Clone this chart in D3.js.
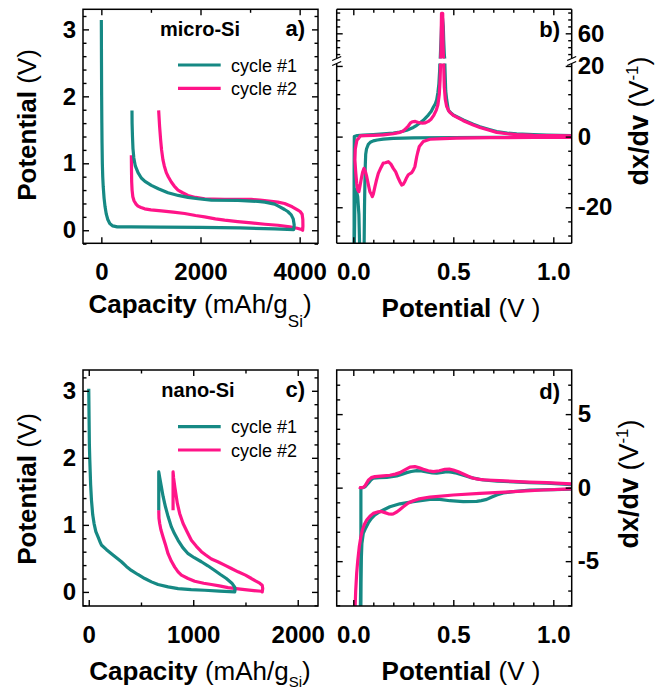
<!DOCTYPE html>
<html><head><meta charset="utf-8">
<script src="https://cdn.jsdelivr.net/npm/d3@7"></script>
<style>body{margin:0;background:#fff}</style>
</head><body><svg id="c" width="656" height="691"></svg>
<script>
// ---------------- DATA ----------------
// Panel a: micro-Si, capacity (mAh/g) vs potential (V)
const microCycle1 = [[0,3.14],[3,2.5],[6,2.0],[10,1.6],[14,1.3],[20,1.0],[28,0.8],[38,0.65],[55,0.48],[75,0.35],[100,0.24],[130,0.16],[170,0.10],[230,0.065],[320,0.05],[600,0.05],[1200,0.048],[2000,0.043],[2800,0.035],[3500,0.02],[3880,0.01],
  [3890,0.08],[3870,0.17],[3830,0.23],[3760,0.28],[3696,0.31],[3600,0.35],[3495,0.39],[3300,0.42],[3159,0.43],[2755,0.445],[2218,0.45],[1950,0.47],[1747,0.49],[1550,0.52],[1344,0.56],[1150,0.62],[1008,0.67],[880,0.73],[806,0.78],[740,0.86],[685,0.96],[655,1.08],[638,1.22],[628,1.4],[620,1.6],[618,1.79]];
const microCycle2 = [[605,1.12],[608,0.9],[612,0.72],[620,0.6],[635,0.5],[659,0.44],[700,0.39],[739,0.36],[800,0.34],[874,0.32],[1000,0.305],[1210,0.29],[1450,0.27],[1680,0.25],[1900,0.22],[2083,0.20],[2300,0.17],[2487,0.15],[2750,0.13],[3024,0.11],[3300,0.09],[3562,0.075],[3800,0.05],[3950,0.03],[4040,0.01],[4060,0.0],
  [4066,0.06],[4064,0.16],[4050,0.24],[4010,0.28],[3965,0.30],[3850,0.35],[3696,0.40],[3560,0.42],[3427,0.43],[3200,0.45],[3024,0.46],[2750,0.46],[2487,0.46],[2250,0.465],[2083,0.47],[1900,0.49],[1747,0.52],[1640,0.56],[1546,0.60],[1470,0.66],[1411,0.72],[1350,0.80],[1310,0.86],[1270,0.96],[1243,1.05],[1215,1.2],[1196,1.35],[1175,1.55],[1156,1.79]];

// Panel b: micro-Si, potential (V) vs dx/dV (1/V)
const microDiff1Discharge = [[1.09,-0.1],[0.9,-0.15],[0.7,-0.2],[0.5,-0.25],[0.3,-0.35],[0.2,-0.5],[0.15,-0.7],[0.12,-0.95],[0.1,-1.2],[0.085,-1.6],[0.075,-2.2],[0.066,-3.5],[0.062,-5],[0.06,-8],[0.058,-13],[0.056,-20],[0.054,-32]];
const microDiff1Plateau = [[0.032,-32],[0.028,-22],[0.022,-17],[0.014,-15],[0.008,-18],[0.005,-32]];
const microDiff1Charge = [[0.004,-32],[0.004,-10],[0.005,0],[0.02,0.3],[0.05,0.45],[0.1,0.6],[0.15,0.8],[0.2,1.0],[0.233,1.3],[0.267,1.8],[0.3,2.6],[0.317,3.2],[0.35,4.6],[0.375,6.1],[0.39,7.2],[0.4,8.3],[0.41,9.3],[0.417,10.4],[0.423,12.5],[0.428,15],[0.432,19],[0.435,25],[0.437,40],[0.44,60],[0.442,75],[0.446,82],[0.45,70],[0.452,50],[0.455,30],[0.458,20],[0.462,13],[0.467,10.4],[0.475,7.5],[0.49,6.6],[0.5,6.1],[0.55,4.7],[0.6,3.5],[0.633,2.8],[0.68,2.0],[0.717,1.4],[0.77,1.0],[0.817,0.75],[0.9,0.55],[0.967,0.4],[1.09,0.25]];
const microDiff2Charge = [[0.03,-0.3],[0.035,0.2],[0.06,0.25],[0.1,0.35],[0.15,0.5],[0.2,0.8],[0.233,1.2],[0.25,1.6],[0.265,2.4],[0.275,3.0],[0.285,3.8],[0.295,4.2],[0.31,4.3],[0.325,4.0],[0.345,3.8],[0.36,3.9],[0.375,4.3],[0.39,5.0],[0.403,6.1],[0.415,7.5],[0.423,9],[0.43,12],[0.434,16],[0.437,22],[0.439,40],[0.44,70],[0.441,89],[0.447,89],[0.448,70],[0.449,40],[0.451,22],[0.455,14],[0.46,10.5],[0.467,8.5],[0.48,7],[0.5,6],[0.55,4.5],[0.6,3.3],[0.633,2.6],[0.68,1.8],[0.717,1.2],[0.77,0.8],[0.817,0.55],[0.9,0.35],[1.0,0.25],[1.09,0.2]];
const microDiff2Discharge = [[1.09,-0.2],[0.9,-0.25],[0.683,-0.3],[0.517,-0.45],[0.45,-0.55],[0.383,-0.75],[0.35,-1.4],[0.33,-2.8],[0.322,-4.5],[0.317,-5.7],[0.308,-8.5],[0.3,-9.5],[0.292,-10.2],[0.275,-10.8],[0.265,-11.8],[0.258,-12.7],[0.25,-13.5],[0.242,-13.7],[0.235,-13],[0.225,-11.8],[0.212,-10],[0.2,-9],[0.188,-7.8],[0.175,-7.1],[0.16,-7.4],[0.15,-7.5],[0.138,-8.8],[0.125,-10.4],[0.115,-12.5],[0.108,-14.2],[0.1,-16.3],[0.095,-17],[0.09,-16.3],[0.083,-15.6],[0.075,-13.5],[0.067,-11.3],[0.06,-9.8],[0.053,-9],[0.047,-10],[0.042,-11.3],[0.035,-13.5],[0.028,-15.6],[0.022,-15],[0.017,-13.2],[0.012,-10],[0.008,-6.6],[0.01,-3.5],[0.018,-1.0],[0.03,-0.3]];

// Panel c: nano-Si, capacity vs potential
const nanoCycle1 = [[0,3.03],[3,2.6],[6,2.2],[10,1.97],[18,1.6],[26,1.37],[38,1.15],[51,1.02],[68,0.9],[89,0.82],[110,0.74],[121,0.70],[170,0.63],[217,0.57],[265,0.51],[313,0.45],[360,0.38],[408,0.32],[470,0.26],[536,0.20],[600,0.15],[663,0.11],[760,0.075],[855,0.05],[980,0.035],[1110,0.025],[1250,0.012],[1397,0.0],
  [1400,0.03],[1397,0.07],[1370,0.13],[1317,0.20],[1260,0.26],[1206,0.32],[1140,0.39],[1078,0.45],[1010,0.51],[951,0.57],[900,0.66],[855,0.77],[820,0.87],[791,0.97],[760,1.12],[734,1.27],[712,1.42],[695,1.57],[680,1.70],[670,1.79],[670,1.22]];
const nanoCycle2 = [[670,1.22],[672,1.1],[679,1.02],[690,0.93],[711,0.82],[735,0.70],[759,0.57],[790,0.46],[823,0.37],[855,0.30],[887,0.25],[950,0.20],[1014,0.16],[1100,0.13],[1174,0.11],[1250,0.09],[1333,0.065],[1410,0.05],[1493,0.035],[1580,0.02],[1652,0.01],[1660,0.0],
  [1665,0.05],[1660,0.10],[1636,0.13],[1600,0.16],[1557,0.20],[1500,0.25],[1429,0.30],[1365,0.35],[1301,0.40],[1235,0.45],[1174,0.49],[1120,0.55],[1078,0.60],[1030,0.68],[982,0.77],[940,0.90],[903,1.02],[870,1.17],[848,1.32],[825,1.55],[812,1.70],[807,1.79],[807,1.22]];

// Panel d: nano-Si, potential vs dx/dV
const nanoDiff1Charge = [[0.038,-8.5],[0.038,-3],[0.038,0],[0.05,0],[0.058,0.05],[0.068,0.2],[0.075,0.3],[0.09,0.55],[0.1,0.64],[0.13,0.68],[0.167,0.7],[0.217,0.8],[0.245,0.92],[0.267,1.02],[0.29,1.1],[0.317,1.16],[0.34,1.13],[0.367,1.07],[0.395,1.0],[0.417,0.98],[0.445,1.03],[0.467,1.09],[0.49,1.05],[0.517,0.98],[0.55,0.84],[0.583,0.7],[0.62,0.6],[0.65,0.52],[0.72,0.44],[0.8,0.39],[0.88,0.34],[0.967,0.3],[1.03,0.26],[1.09,0.2]];
const nanoDiff1Discharge = [[1.09,-0.11],[1.0,-0.13],[0.883,-0.16],[0.8,-0.27],[0.75,-0.36],[0.717,-0.5],[0.69,-0.65],[0.667,-0.8],[0.64,-0.88],[0.617,-0.93],[0.55,-0.95],[0.483,-0.89],[0.433,-0.8],[0.383,-0.8],[0.3,-0.95],[0.233,-1.1],[0.183,-1.3],[0.15,-1.52],[0.125,-1.7],[0.108,-1.86],[0.09,-2.1],[0.075,-2.4],[0.06,-2.8],[0.05,-3.1],[0.043,-3.8],[0.04,-4.9],[0.037,-6.5],[0.035,-8.5]];
const nanoDiff2Charge = [[0.033,-0.1],[0.035,0],[0.05,0.02],[0.06,0.15],[0.075,0.5],[0.09,0.68],[0.108,0.75],[0.15,0.8],[0.183,0.84],[0.21,0.92],[0.233,1.02],[0.26,1.22],[0.283,1.39],[0.308,1.43],[0.33,1.35],[0.35,1.25],[0.375,1.15],[0.4,1.09],[0.43,1.15],[0.458,1.25],[0.48,1.26],[0.5,1.2],[0.525,1.08],[0.55,0.93],[0.575,0.78],[0.6,0.64],[0.63,0.56],[0.667,0.52],[0.73,0.47],[0.8,0.43],[0.88,0.38],[0.967,0.34],[1.09,0.25]];
const nanoDiff2Discharge = [[1.09,-0.09],[0.95,-0.16],[0.8,-0.27],[0.633,-0.39],[0.5,-0.5],[0.383,-0.64],[0.33,-0.76],[0.3,-0.89],[0.275,-1.05],[0.25,-1.3],[0.232,-1.5],[0.217,-1.66],[0.2,-1.78],[0.192,-1.8],[0.175,-1.78],[0.158,-1.7],[0.14,-1.62],[0.125,-1.64],[0.1,-1.75],[0.083,-1.95],[0.067,-2.2],[0.055,-2.5],[0.045,-2.9],[0.037,-3.4],[0.03,-4.0],[0.022,-5],[0.017,-5.8],[0.012,-7],[0.008,-8.5]];

// Ticks
const capTicksMicro = [0,2000,4000], capMinorMicro = [1000,3000];
const capTicksNano = [0,1000,2000], capMinorNano = [500,1500];
const voltTicks = [0,1,2,3];
const voltMinor = [-0.2,0.2,0.4,0.6,0.8,1.2,1.4,1.6,1.8,2.2,2.4,2.6,2.8,3.2];
const potTicks = [0,0.5,1.0], potMinor = [0.1,0.2,0.3,0.4,0.6,0.7,0.8,0.9];
const bLowTicks = [-20,0,20], bLowMinor = [-28,-24,-16,-12,-8,-4,4,8,12,16];
const bUpTicks = [60], bUpMinor = [30,40,50,70,80,90];
const dTicks = [-5,0,5], dMinor = [-8,-7,-6,-4,-3,-2,-1,1,2,3,4,6,7];
const legendLabels = ["cycle #1","cycle #2"];

// ---------------- DRAW ----------------
const TEAL = "#168984", PINK = "#ff1488";
const FONT = '"Liberation Sans", Arial, Helvetica, sans-serif';
const svg = d3.select("#c");
const defs = svg.append("defs");

function clip(id, x0, y0, x1, y1) {
  defs.append("clipPath").attr("id", id).append("rect")
    .attr("x", x0).attr("y", y0).attr("width", x1 - x0).attr("height", y1 - y0);
  return "url(#" + id + ")";
}

function axis(fn, scale, values, size, tr, fmt, pad) {
  const a = fn(scale).tickValues(values).tickSize(size).tickPadding(pad || 0)
    .tickFormat(fmt || (() => ""));
  const g = svg.append("g").attr("transform", tr).call(a);
  g.select(".domain").remove();
  g.selectAll("line").attr("stroke", "#000").attr("stroke-width", 1.4);
  g.selectAll("text").attr("font-family", FONT).attr("font-weight", "bold")
    .attr("font-size", 24).attr("fill", "#000");
  return g;
}
const fmtPlain = d => String(d);
const fmt1 = d3.format(".1f");
const MAJ = -6, MIN = -3.5;

function xAxes(x, y0, y1, major, minor, fmt) {
  axis(d3.axisBottom, x, major, MAJ, `translate(0,${y1})`, fmt, 20);
  axis(d3.axisBottom, x, minor, MIN, `translate(0,${y1})`);
  axis(d3.axisTop, x, major, MAJ, `translate(0,${y0})`);
  axis(d3.axisTop, x, minor, MIN, `translate(0,${y0})`);
}

function drawLine(g, x, y, data, color, cp) {
  g.append("path").datum(data)
    .attr("clip-path", cp)
    .attr("fill", "none").attr("stroke", color).attr("stroke-width", 3.2)
    .attr("stroke-linejoin", "round").attr("stroke-linecap", "butt")
    .attr("d", d3.line().x(d => x(d[0])).y(d => y(d[1])));
}

function rectFrame(x0, y0, x1, y1) {
  svg.append("rect").attr("x", x0).attr("y", y0).attr("width", x1 - x0).attr("height", y1 - y0)
    .attr("fill", "none").attr("stroke", "#000").attr("stroke-width", 1.5);
}

function text(x, y, parts, opts) {
  const t = svg.append("text").attr("x", x).attr("y", y)
    .attr("font-family", FONT).attr("fill", "#000")
    .attr("text-anchor", (opts && opts.anchor) || "start");
  if (opts && opts.rotate) t.attr("transform", `rotate(-90,${x},${y})`);
  parts.forEach(p => {
    const s = t.append("tspan").text(p.t).attr("font-size", p.size || 26)
      .attr("font-weight", p.bold ? "bold" : "normal");
    if (p.dy) s.attr("dy", p.dy);
  });
  return t;
}

function legend(x0, yTop) {
  [TEAL, PINK].forEach((c, i) => {
    const yy = yTop + i * 23.3;
    svg.append("line").attr("x1", x0).attr("x2", x0 + 42.7).attr("y1", yy).attr("y2", yy)
      .attr("stroke", c).attr("stroke-width", 3.2);
    text(x0 + 53, yy + 6.5, [{t: legendLabels[i], size: 18}]);
  });
}

const L1 = 83, R1 = 318, L2 = 336.7, R2 = 571.7;
const T1 = 9.3, B1 = 243.3, T2 = 370, B2 = 606;

// ===== Panel a =====
{
  const x = d3.scaleLinear([-370, 4370], [L1, R1]);
  const y = d3.scaleLinear([-0.195, 3.30], [B1, T1]);
  const cp = clip("ca", L1, T1, R1, B1);
  const g = svg.append("g");
  drawLine(g, x, y, microCycle2, PINK, cp);
  drawLine(g, x, y, microCycle1, TEAL, cp);
  xAxes(x, T1, B1, capTicksMicro, capMinorMicro, fmtPlain);
  axis(d3.axisLeft, y, voltTicks, MAJ, `translate(${L1},0)`, fmtPlain, 7);
  axis(d3.axisLeft, y, voltMinor, MIN, `translate(${L1},0)`);
  axis(d3.axisRight, y, voltTicks, MAJ, `translate(${R1},0)`);
  axis(d3.axisRight, y, voltMinor, MIN, `translate(${R1},0)`);
  rectFrame(L1, T1, R1, B1);
  text(200, 36, [{t: "micro-Si", bold: true, size: 20}], {anchor: "middle"});
  text(305, 36, [{t: "a)", bold: true, size: 22}], {anchor: "end"});
  legend(178, 65);
  text(200, 313, [{t: "Capacity", bold: true}, {t: " (mAh/g"}, {t: "Si", size: 17, dy: 14}, {t: ")", dy: -14}], {anchor: "middle"});
  text(36, 125, [{t: "Potential", bold: true}, {t: " (V)"}], {anchor: "middle", rotate: true});
}

// ===== Panel b =====
{
  const x = d3.scaleLinear([-0.083, 1.092], [L2, R2]);
  const yLow = d3.scaleLinear([-30.2, 21.4], [B1, 61]);
  const yUp = d3.scaleLinear([20, 94.7], [61, T1]);
  const cpLow = clip("cbl", L2, 63.5, R2, B1);
  const cpUp = clip("cbu", L2, T1, R2, 58.5);
  const g = svg.append("g");
  [[yLow, cpLow], [yUp, cpUp]].forEach(([y, cp]) => {
    drawLine(g, x, y, microDiff1Discharge, TEAL, cp);
    drawLine(g, x, y, microDiff1Plateau, TEAL, cp);
    drawLine(g, x, y, microDiff1Charge, TEAL, cp);
    drawLine(g, x, y, microDiff2Discharge, PINK, cp);
    drawLine(g, x, y, microDiff2Charge, PINK, cp);
  });
  xAxes(x, T1, B1, potTicks, potMinor, fmt1);
  axis(d3.axisLeft, yLow, bLowTicks, MAJ, `translate(${L2},0)`);
  axis(d3.axisLeft, yLow, bLowMinor, MIN, `translate(${L2},0)`);
  axis(d3.axisLeft, yUp, bUpTicks, MAJ, `translate(${L2},0)`);
  axis(d3.axisLeft, yUp, bUpMinor, MIN, `translate(${L2},0)`);
  axis(d3.axisRight, yLow, bLowTicks, MAJ, `translate(${R2},0)`, fmtPlain, 6);
  axis(d3.axisRight, yLow, bLowMinor, MIN, `translate(${R2},0)`);
  axis(d3.axisRight, yUp, bUpTicks, MAJ, `translate(${R2},0)`, fmtPlain, 6);
  axis(d3.axisRight, yUp, bUpMinor, MIN, `translate(${R2},0)`);
  const fr = svg.append("g").attr("stroke", "#000").attr("stroke-width", 1.5).attr("fill", "none");
  fr.append("line").attr("x1", L2).attr("x2", R2).attr("y1", T1).attr("y2", T1);
  fr.append("line").attr("x1", L2).attr("x2", R2).attr("y1", B1).attr("y2", B1);
  [L2, R2].forEach(xx => {
    fr.append("line").attr("x1", xx).attr("x2", xx).attr("y1", T1).attr("y2", 58.5);
    fr.append("line").attr("x1", xx).attr("x2", xx).attr("y1", 63.5).attr("y2", B1);
    [58.5, 63.5].forEach(yy => {
      fr.append("line").attr("x1", xx - 4.5).attr("x2", xx + 4.5)
        .attr("y1", yy + 2).attr("y2", yy - 2).attr("stroke-width", 1.3);
    });
  });
  text(560, 37, [{t: "b)", bold: true, size: 22}], {anchor: "end"});
  text(461, 317, [{t: "Potential", bold: true}, {t: " (V )"}], {anchor: "middle"});
  text(648, 121, [{t: "dx/dv", bold: true, size: 27}, {t: " (V", size: 27}, {t: "-1", size: 17, dy: -10}, {t: ")", size: 27, dy: 10}], {anchor: "middle", rotate: true});
}

// ===== Panel c =====
{
  const x = d3.scaleLinear([-55, 2194], [L1, R1]);
  const y = d3.scaleLinear([-0.21, 3.31], [B2, T2]);
  const cp = clip("cc", L1, T2, R1, B2);
  const g = svg.append("g");
  drawLine(g, x, y, nanoCycle2, PINK, cp);
  drawLine(g, x, y, nanoCycle1, TEAL, cp);
  xAxes(x, T2, B2, capTicksNano, capMinorNano, fmtPlain);
  axis(d3.axisLeft, y, voltTicks, MAJ, `translate(${L1},0)`, fmtPlain, 7);
  axis(d3.axisLeft, y, voltMinor, MIN, `translate(${L1},0)`);
  axis(d3.axisRight, y, voltTicks, MAJ, `translate(${R1},0)`);
  axis(d3.axisRight, y, voltMinor, MIN, `translate(${R1},0)`);
  rectFrame(L1, T2, R1, B2);
  text(198, 397, [{t: "nano-Si", bold: true, size: 20}], {anchor: "middle"});
  text(305, 397, [{t: "c)", bold: true, size: 22}], {anchor: "end"});
  legend(178, 426.7);
  text(200, 680, [{t: "Capacity", bold: true}, {t: " (mAh/g"}, {t: "Si", size: 15, dy: 7}, {t: ")", dy: -7}], {anchor: "middle"});
  text(36, 489, [{t: "Potential", bold: true}, {t: " (V)"}], {anchor: "middle", rotate: true});
}

// ===== Panel d =====
{
  const x = d3.scaleLinear([-0.083, 1.092], [L2, R2]);
  const y = d3.scaleLinear([-8.05, 8.0], [B2, T2]);
  const cp = clip("cd", L2, T2, R2, B2);
  const g = svg.append("g");
  drawLine(g, x, y, nanoDiff1Discharge, TEAL, cp);
  drawLine(g, x, y, nanoDiff1Charge, TEAL, cp);
  drawLine(g, x, y, nanoDiff2Discharge, PINK, cp);
  drawLine(g, x, y, nanoDiff2Charge, PINK, cp);
  xAxes(x, T2, B2, potTicks, potMinor, fmt1);
  axis(d3.axisLeft, y, dTicks, MAJ, `translate(${L2},0)`);
  axis(d3.axisLeft, y, dMinor, MIN, `translate(${L2},0)`);
  axis(d3.axisRight, y, dTicks, MAJ, `translate(${R2},0)`, fmtPlain, 6);
  axis(d3.axisRight, y, dMinor, MIN, `translate(${R2},0)`);
  rectFrame(L2, T2, R2, B2);
  text(560, 399, [{t: "d)", bold: true, size: 22}], {anchor: "end"});
  text(461, 680, [{t: "Potential", bold: true}, {t: " (V )"}], {anchor: "middle"});
  text(638, 484, [{t: "dx/dv", bold: true, size: 27}, {t: " (V", size: 27}, {t: "-1", size: 17, dy: -10}, {t: ")", size: 27, dy: 10}], {anchor: "middle", rotate: true});
}
</script></body></html>
